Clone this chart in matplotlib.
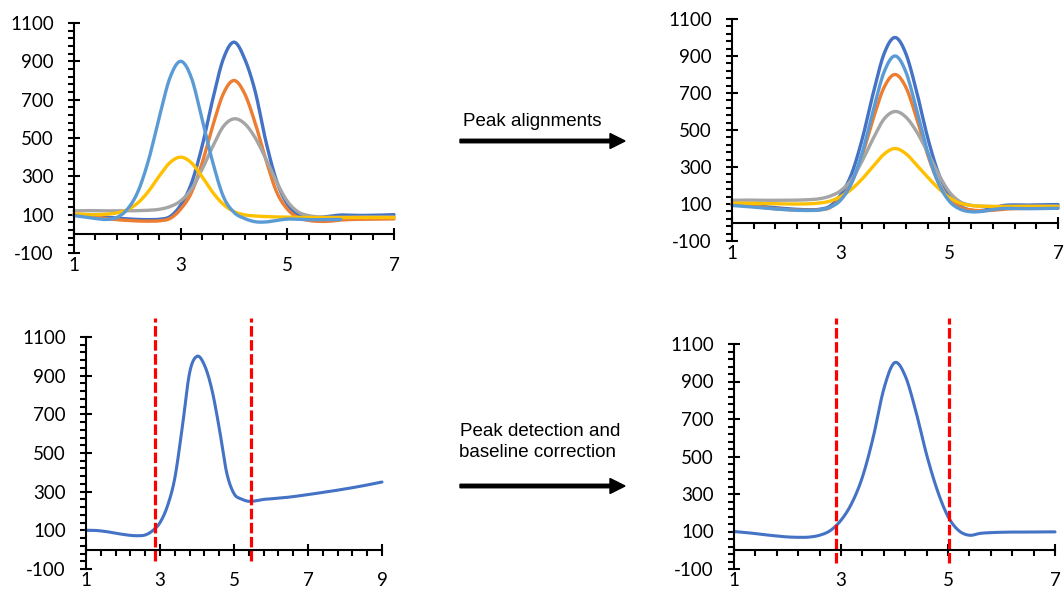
import numpy as np
import matplotlib
matplotlib.use("Agg")
import matplotlib.pyplot as plt
from matplotlib.ticker import MultipleLocator
from matplotlib.patches import FancyArrow

# ---------------- data ----------------
x_top = [1.0, 1.2, 1.4, 1.6, 1.8, 2.0, 2.2, 2.4, 2.6, 2.8, 3.0, 3.2, 3.4, 3.6, 3.8,
         4.0, 4.2, 4.4, 4.6, 4.8, 5.0, 5.2, 5.4, 5.6, 5.8, 6.0, 6.2, 6.4, 6.6, 6.8, 7.0]

# top-left: raw chromatograms
tl_dark_blue = [100, 96, 92, 87, 82, 78, 75, 74, 76, 90, 150, 262, 455, 700, 913,
                1000, 913, 740, 480, 275, 155, 100, 82, 85, 92, 98, 97, 96, 97, 98, 100]
tl_orange = [100, 95, 88, 80, 74, 70, 67, 66, 68, 80, 129, 214, 367, 562, 731,
             800, 731, 575, 385, 218, 129, 85, 70, 65, 66, 72, 75, 76, 77, 78, 78]
tl_gray = [120, 121, 121, 120, 120, 120, 121, 123, 128, 142, 172, 232, 335, 455, 560,
           600, 575, 500, 390, 270, 170, 115, 95, 88, 86, 86, 87, 88, 88, 88, 88]
tl_yellow = [105, 101, 100, 102, 109, 126, 162, 223, 302, 372, 400, 371, 299, 217, 154,
             116, 99, 93, 90, 88, 87, 86, 85, 85, 85, 85, 85, 85, 85, 85, 85]
tl_light_blue = [95, 88, 80, 75, 85, 128, 221, 387, 610, 815, 900, 815, 600, 375, 195,
                 112, 80, 63, 62, 70, 77, 76, 74, 74, 75, 75,
                 None, None, None, None, None]

# top-right: aligned chromatograms
tr_dark_blue = [100, 96, 91, 86, 80, 75, 71, 69, 71, 88, 150, 262, 455, 700, 913,
                1000, 913, 705, 460, 266, 150, 90, 66, 65, 78, 92, 95, 94, 95, 96, 97]
tr_orange = [100, 95, 88, 80, 74, 70, 67, 66, 68, 80, 129, 214, 367, 562, 731,
             800, 731, 562, 367, 214, 125, 82, 68, 64, 66, 72, 75, 76, 77, 78, 78]
tr_gray = [120, 121, 121, 120, 120, 120, 121, 123, 128, 142, 172, 232, 335, 455, 560,
           600, 570, 490, 380, 262, 165, 112, 93, 88, 86, 86, 87, 88, 88, 88, 88]
tr_yellow = [105, 104, 103, 102, 101, 100, 100, 101, 105, 115, 140, 180, 237, 305, 370,
             400, 372, 310, 245, 185, 135, 104, 92, 88, 87, 87, 87, 87, 87, 87, 87]
tr_light_blue = [92, 88, 83, 78, 73, 69, 66, 65, 67, 82, 121, 213, 381, 607, 814,
                 900, 814, 607, 381, 213, 115, 72, 58, 60, 70, 76, 76, 75, 75, 76, 77]

# bottom-left: single chromatogram with drifting baseline
x_bl = [1.0, 1.2, 1.4, 1.6, 1.8, 2.0, 2.2, 2.4, 2.6, 2.8, 3.0, 3.2, 3.4, 3.6, 3.8,
        4.0, 4.2, 4.4, 4.6, 4.8, 5.0, 5.2, 5.4, 5.6, 5.8, 6.0, 6.5, 7.0, 7.5, 8.0, 8.5, 9.0]
bl_values = [100, 100, 97, 92, 85, 79, 74, 72, 76, 98, 140, 225, 370, 630, 915,
             1000, 955, 830, 630, 400, 290, 262, 250, 253, 260, 263, 272, 285, 299, 314, 331, 350]
bl_bounds = [2.86, 5.46]

# bottom-right: baseline corrected
x_br = x_top
br_values = [100, 95, 89, 82, 76, 71, 69, 70, 80, 105, 160, 250, 390, 600, 860,
             1000, 930, 740, 510, 320, 180, 105, 80, 90, 94, 96, 97, 97, 97, 98, 98]
br_bounds = [2.91, 5.02]

y_ticks = [-100, 100, 300, 500, 700, 900, 1100]
y_labels = ["-100", "100", "300", "500", "700", "900", "1100"]
x_ticks_7 = [1, 3, 5, 7]
x_labels_7 = ["1", "3", "5", "7"]
x_ticks_9 = [1, 3, 5, 7, 9]
x_labels_9 = ["1", "3", "5", "7", "9"]

series_colors = ["#4472C4", "#ED7D31", "#A5A5A5", "#FFC000", "#5B9BD5"]
line_blue = "#4472C4"
dash_red = "#FF0000"

# ---------------- helpers ----------------
W, H = 1064, 590
TICK_FONT = dict(fontfamily="Lato", fontsize=13.5)


def smooth(xs, ys, n=16):
    """Excel-style smoothed line (Bezier through the data points)."""
    xs = np.asarray(xs, float)
    ys = np.array([np.nan if v is None else v for v in ys], float)
    m = ~np.isnan(ys)
    P = np.column_stack([xs[m], ys[m]])
    P = np.vstack([P[0], P, P[-1]])
    t = np.linspace(0, 1, n, endpoint=False)[:, None]
    out = []
    for i in range(1, len(P) - 2):
        p0, p1, p2, p3 = P[i - 1], P[i], P[i + 1], P[i + 2]
        c1 = p1 + (p2 - p0) / 6.0
        c2 = p2 - (p3 - p1) / 6.0
        seg = ((1 - t) ** 3) * p1 + 3 * ((1 - t) ** 2) * t * c1 + 3 * (1 - t) * t ** 2 * c2 + t ** 3 * p2
        out.append(seg)
    out.append(P[-2][None, :])
    return np.vstack(out)


def px_axes(fig, left, right, top, bottom):
    return fig.add_axes([left / W, (H - bottom) / H, (right - left) / W, (bottom - top) / H])


def setup(ax, xmax, xt, xl, label_drop):
    ax.set_xlim(1, xmax)
    ax.set_ylim(-100, 1100)
    ax.patch.set_visible(False)
    for s in ["top", "right"]:
        ax.spines[s].set_visible(False)
    ax.spines["bottom"].set_position(("data", 0))
    for s in ["left", "bottom"]:
        ax.spines[s].set_linewidth(1.5)
        ax.spines[s].set_color("black")
    ax.set_yticks(y_ticks)
    ax.set_yticklabels(y_labels, **TICK_FONT)
    ax.yaxis.set_minor_locator(MultipleLocator(40, offset=20))
    ax.set_xticks(xt)
    ax.xaxis.set_minor_locator(MultipleLocator(0.4, offset=0.2))
    ax.tick_params(axis="both", which="major", direction="inout", length=8.6, width=1.5, color="black")
    ax.tick_params(axis="both", which="minor", direction="out", length=4.0, width=1.5, color="black")
    ax.tick_params(axis="y", which="major", pad=10.2)
    ax.tick_params(axis="x", labelbottom=False)
    for xv, lbl in zip(xt, xl):
        ax.annotate(lbl, (xv, -100), xytext=(0, -label_drop), textcoords="offset points",
                    ha="center", va="top", annotation_clip=False, **TICK_FONT)


fig = plt.figure(figsize=(W / 100, H / 100), dpi=100)

# top-left
ax_tl = px_axes(fig, 74, 394, 23, 253)
setup(ax_tl, 7, x_ticks_7, x_labels_7, 3)
for ys, c in zip([tl_dark_blue, tl_orange, tl_gray, tl_yellow, tl_light_blue], series_colors):
    p = smooth(x_top, ys)
    ax_tl.plot(p[:, 0], p[:, 1], color=c, lw=2.4, solid_capstyle="round", clip_on=False)

# top-right
ax_tr = px_axes(fig, 732, 1058, 19, 241)
setup(ax_tr, 7, x_ticks_7, x_labels_7, 3)
for ys, c in zip([tr_dark_blue, tr_orange, tr_gray, tr_yellow, tr_light_blue], series_colors):
    p = smooth(x_top, ys)
    ax_tr.plot(p[:, 0], p[:, 1], color=c, lw=2.4, solid_capstyle="round", clip_on=False)

# bottom-left
ax_bl = px_axes(fig, 86, 382, 337, 569)
setup(ax_bl, 9, x_ticks_9, x_labels_9, 2)
p = smooth(x_bl, bl_values)
ax_bl.plot(p[:, 0], p[:, 1], color=line_blue, lw=2.2, solid_capstyle="round", clip_on=False)
for b in bl_bounds:
    ax_bl.plot([b, b], [-57, 1200], color=dash_red, lw=2.3, linestyle=(0, (3.3, 1.1)), clip_on=False)

# bottom-right
ax_br = px_axes(fig, 734, 1055, 344, 569)
setup(ax_br, 7, x_ticks_7, x_labels_7, 2)
p = smooth(x_br, br_values)
ax_br.plot(p[:, 0], p[:, 1], color=line_blue, lw=2.2, solid_capstyle="round", clip_on=False)
for b in br_bounds:
    ax_br.plot([b, b], [-69, 1237], color=dash_red, lw=2.3, linestyle=(0, (3.3, 1.1)), clip_on=False)

# arrows and captions
ARROW_FONT = dict(fontfamily="Liberation Sans", fontsize=13.5, color="black")
for y_px in [141, 486]:
    fig.add_artist(FancyArrow(4.60, (H - y_px) / 100, 1.65, 0, width=0.035,
                              head_width=0.15, head_length=0.15, length_includes_head=True,
                              color="black", transform=fig.dpi_scale_trans))
fig.text(463 / W, (H - 126) / H, "Peak alignments", ha="left", va="baseline", **ARROW_FONT)
fig.text(460 / W, (H - 436) / H, "Peak detection and", ha="left", va="baseline", **ARROW_FONT)
fig.text(459 / W, (H - 457) / H, "baseline correction", ha="left", va="baseline", **ARROW_FONT)

fig.savefig("out.png", dpi=100)
